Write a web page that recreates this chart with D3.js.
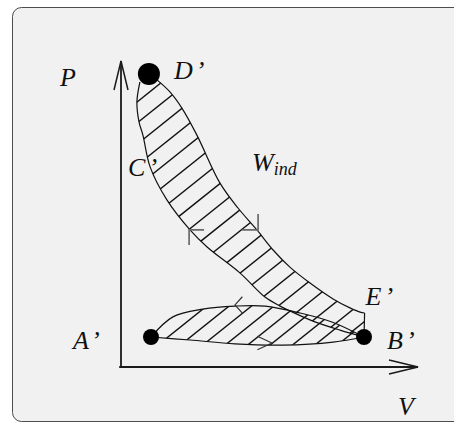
<!DOCTYPE html>
<html>
<head>
<meta charset="utf-8">
<script src="https://cdn.jsdelivr.net/npm/d3@7"></script>
<style>
  html, body { margin: 0; padding: 0; background: #ffffff; }
  svg { display: block; }
  text { font-family: "Liberation Serif", "Times New Roman", serif; font-style: italic; fill: #111; }
</style>
</head>
<body>
<svg id="chart" width="454" height="423"></svg>
<script>
// ---- Indicator diagram data (volume V, pressure P), arbitrary units ----

// Named state points of the cycle
const stateLabels = ["A", "B", "D", "E"];
const stateV      = [1.00, 8.10, 0.93, 8.12];
const stateP      = [1.00, 1.00, 9.77, 1.80];

// Expansion stroke, D’ -> E’ (outer boundary of the work area)
const expansionV = [1.20, 1.63, 2.03, 2.53, 3.30, 3.90, 4.53, 5.07, 5.63, 6.30, 7.07, 7.63, 7.97, 8.12];
const expansionP = [9.57, 9.17, 8.63, 7.73, 6.13, 5.30, 4.57, 3.90, 3.33, 2.80, 2.27, 1.97, 1.83, 1.80];

// Compression stroke, B’ -> C’ -> D’ (inner boundary)
const compressionV = [8.10, 7.30, 6.40, 5.63, 5.30, 4.80, 3.97, 2.87, 2.30, 1.53, 0.97, 0.73, 0.60, 0.53, 0.63];
const compressionP = [1.00, 1.23, 1.53, 1.87, 2.03, 2.33, 3.13, 4.00, 4.57, 5.57, 6.67, 7.73, 8.17, 8.83, 9.50];

// Exhaust stroke, B’ -> A’ (upper side of the pumping loop)
const exhaustV = [8.10, 7.03, 5.97, 4.80, 3.80, 2.73, 1.73, 1.00];
const exhaustP = [1.00, 1.50, 1.80, 2.03, 2.03, 1.93, 1.67, 1.00];

// Intake stroke, A’ -> B’ (lower side of the pumping loop)
const intakeV = [1.00, 2.30, 3.80, 5.40, 7.07, 8.10];
const intakeP = [1.00, 0.90, 0.77, 0.73, 0.83, 1.00];

// Direction markers along the strokes: position and heading (degrees, screen frame)
const arrowV       = [2.27, 4.57, 3.80, 5.03];
const arrowP       = [4.57, 4.57, 2.07, 0.80];
const arrowHeading = [225, 45, 180, 0];

// Extent of the axes
const axisMaxV = 9.9;
const axisMaxP = 10.2;

// Point of C’ on the compression stroke and placement of the work label
const labelC = { v: 0.97, p: 6.67 };
const labelW = { v: 4.37, p: 6.53 };

// ---- drawing ----
const svg = d3.select("#chart");

// Panel background
svg.append("rect")
  .attr("x", 12.5).attr("y", 7.5)
  .attr("width", 480).attr("height", 414)
  .attr("rx", 9).attr("ry", 9)
  .attr("fill", "#f1f1f1")
  .attr("stroke", "#4d4d4d")
  .attr("stroke-width", 1);

const x = d3.scaleLinear().domain([0, 10]).range([121, 421]);
const y = d3.scaleLinear().domain([0, 10]).range([367, 67]);

const zip = (vs, ps) => vs.map((v, i) => [v, ps[i]]);
const smooth = d3.line().x(d => x(d[0])).y(d => y(d[1])).curve(d3.curveCatmullRom.alpha(0.5));
const straight = d3.line().x(d => x(d[0])).y(d => y(d[1]));
const cont = s => s.replace(/^M/, "L");

const A = [stateV[0], stateP[0]];
const B = [stateV[1], stateP[1]];
const D = [stateV[2], stateP[2]];
const E = [stateV[3], stateP[3]];

const expansion   = zip(expansionV, expansionP);
const compression = zip(compressionV, compressionP);
const exhaust     = zip(exhaustV, exhaustP);
const intake      = zip(intakeV, intakeP);

// Closed outlines of the positive work area and the pumping loop
const bandOutline = smooth(expansion) + cont(straight([E, B])) + cont(smooth(compression)) + "Z";
const loopOutline = smooth(exhaust) + cont(smooth(intake)) + "Z";

const defs = svg.append("defs");
defs.append("clipPath").attr("id", "clip-band").append("path").attr("d", bandOutline);
defs.append("clipPath").attr("id", "clip-loop").append("path").attr("d", loopOutline);

// Hatching: parallel strokes at a fixed angle, clipped to an outline
const hatchAngle = Math.atan(0.8);
const hn = [Math.sin(hatchAngle), Math.cos(hatchAngle)];   // normal
const hd = [Math.cos(hatchAngle), -Math.sin(hatchAngle)];  // direction

function hatch(clipId, pts, anchor, gap) {
  const proj = p => hn[0] * x(p[0]) + hn[1] * y(p[1]);
  const vals = pts.map(proj);
  const lo = d3.min(vals) - gap, hi = d3.max(vals) + gap;
  const c0 = proj(anchor);
  const kMin = Math.floor((lo - c0) / gap), kMax = Math.ceil((hi - c0) / gap);
  const offsets = d3.range(kMin, kMax + 1).map(k => c0 + k * gap);
  svg.append("g")
    .attr("clip-path", `url(#${clipId})`)
    .selectAll("line")
    .data(offsets)
    .join("line")
      .attr("x1", c => c * hn[0] - 700 * hd[0])
      .attr("y1", c => c * hn[1] - 700 * hd[1])
      .attr("x2", c => c * hn[0] + 700 * hd[0])
      .attr("y2", c => c * hn[1] + 700 * hd[1])
      .attr("stroke", "#111")
      .attr("stroke-width", 1.4);
}

hatch("clip-band", expansion.concat(compression), [0.53, 8.83], 16.5);
hatch("clip-loop", exhaust.concat(intake), [1.53, 0.97], 14);

// Axes with open arrowheads
const axisColor = "#1a1a1a";
const axes = svg.append("g").attr("stroke", axisColor).attr("stroke-width", 1.8).attr("fill", "none");
axes.append("line").attr("x1", x(0)).attr("y1", y(0)).attr("x2", x(0)).attr("y2", y(axisMaxP));
axes.append("line").attr("x1", x(-0.06)).attr("y1", y(0)).attr("x2", x(axisMaxV)).attr("y2", y(0));
axes.append("path").attr("stroke-width", 1.5)
  .attr("d", `M${x(0) - 7},${y(axisMaxP) + 29}L${x(0)},${y(axisMaxP)}L${x(0) + 7},${y(axisMaxP) + 29}`);
axes.append("path").attr("stroke-width", 1.5)
  .attr("d", `M${x(axisMaxV) - 29},${y(0) - 7}L${x(axisMaxV)},${y(0)}L${x(axisMaxV) - 29},${y(0) + 7}`);

// Stroke curves
const curves = svg.append("g").attr("fill", "none").attr("stroke", "#111").attr("stroke-width", 1.2);
curves.append("path").attr("d", smooth(expansion));
curves.append("path").attr("d", straight([E, B]));
curves.append("path").attr("d", smooth(compression));
curves.append("path").attr("d", smooth(exhaust));
curves.append("path").attr("d", smooth(intake));

// Direction markers
const arrowStyle = [
  { len: 15, half: 45, color: "#6a6a6a", w: 1.7 },
  { len: 16, half: 45, color: "#6a6a6a", w: 1.7 },
  { len: 11, half: 48, color: "#333", w: 1.2 },
  { len: 16, half: 25, color: "#333", w: 1.2 }
];
arrowV.forEach((v, i) => {
  const tx = x(v), ty = y(arrowP[i]);
  const s = arrowStyle[i];
  const back = (arrowHeading[i] + 180) * Math.PI / 180;
  const a1 = back - s.half * Math.PI / 180, a2 = back + s.half * Math.PI / 180;
  svg.append("path")
    .attr("d", `M${tx + s.len * Math.cos(a1)},${ty + s.len * Math.sin(a1)}L${tx},${ty}L${tx + s.len * Math.cos(a2)},${ty + s.len * Math.sin(a2)}`)
    .attr("fill", "none").attr("stroke", s.color).attr("stroke-width", s.w);
});

// State point markers
const markerR = [8, 8, 11];
[A, B, D].forEach((p, i) => {
  svg.append("circle").attr("cx", x(p[0])).attr("cy", y(p[1])).attr("r", markerR[i]).attr("fill", "#000");
});

// Labels
const fs = 26;
const label = (t, px, py, primed) => {
  const el = svg.append("text").attr("x", px).attr("y", py).attr("font-size", fs);
  el.append("tspan").text(t);
  if (primed) el.append("tspan").attr("dx", 3).text("’");
  return el;
};
label("P", x(0) - 61, y(axisMaxP) + 25, false);
label("V", x(axisMaxV) - 20, y(0) + 48, false);
label(stateLabels[0], x(A[0]) - 78, y(A[1]) + 12, true);
label(stateLabels[1], x(B[0]) + 23, y(B[1]) + 12, true);
label(stateLabels[2], x(D[0]) + 25, y(D[1]) + 5, true);
label(stateLabels[3], x(E[0]) + 1, y(E[1]) - 8, true);
label("C", x(labelC.v) - 22, y(labelC.p) + 9, true);

const w = svg.append("text").attr("x", x(labelW.v)).attr("y", y(labelW.p)).attr("font-size", fs);
w.append("tspan").text("W");
w.append("tspan").attr("font-size", 18).attr("dy", 4).text("ind");
</script>
</body>
</html>
